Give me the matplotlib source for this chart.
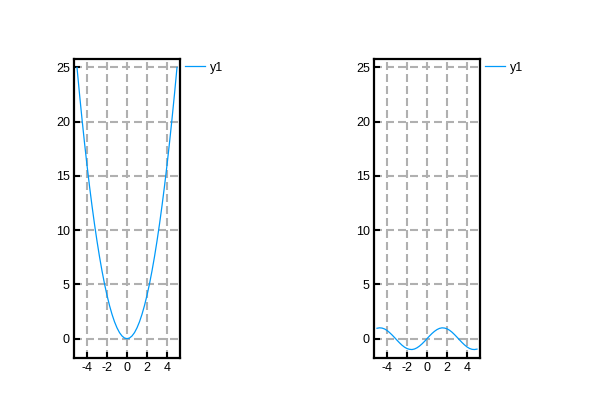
import matplotlib
matplotlib.use("Agg")
import matplotlib.pyplot as plt

x = [-5, -4.75, -4.5, -4.25, -4, -3.75, -3.5, -3.25, -3, -2.75, -2.5, -2.25, -2, -1.75, -1.5, -1.25, -1, -0.75, -0.5, -0.25,
     0, 0.25, 0.5, 0.75, 1, 1.25, 1.5, 1.75, 2, 2.25, 2.5, 2.75, 3, 3.25, 3.5, 3.75, 4, 4.25, 4.5, 4.75, 5]
y_left = [25, 22.56, 20.25, 18.06, 16, 14.06, 12.25, 10.56, 9, 7.56, 6.25, 5.06, 4, 3.06, 2.25, 1.56, 1, 0.56, 0.25, 0.06,
          0, 0.06, 0.25, 0.56, 1, 1.56, 2.25, 3.06, 4, 5.06, 6.25, 7.56, 9, 10.56, 12.25, 14.06, 16, 18.06, 20.25, 22.56, 25]
y_right = [0.96, 1.0, 0.98, 0.9, 0.76, 0.57, 0.35, 0.11, -0.14, -0.38, -0.6, -0.78, -0.91, -0.98, -1.0, -0.95, -0.84, -0.68, -0.48, -0.25,
           0, 0.25, 0.48, 0.68, 0.84, 0.95, 1.0, 0.98, 0.91, 0.78, 0.6, 0.38, 0.14, -0.11, -0.35, -0.57, -0.76, -0.9, -0.98, -1.0, -0.96]
series_label = "y1"
xticks = [-4, -2, 0, 2, 4]
xtick_labels = ["-4", "-2", "0", "2", "4"]
yticks = [0, 5, 10, 15, 20, 25]
ytick_labels = ["0", "5", "10", "15", "20", "25"]

plt.rcParams["font.family"] = ["Liberation Sans", "DejaVu Sans"]

fig = plt.figure(figsize=(6, 4), dpi=100)
color = "#009AFA"

for left, ys in [(74 / 600, y_left), (374 / 600, y_right)]:
    ax = fig.add_axes([left, 42 / 400, 106 / 600, 299 / 400])
    ax.plot(x, ys, color=color, lw=0.9, label=series_label)
    ax.set_xlim(-5.3, 5.3)
    ax.set_ylim(-1.78, 25.78)
    ax.set_xticks(xticks)
    ax.set_xticklabels(xtick_labels)
    ax.set_yticks(yticks)
    ax.set_yticklabels(ytick_labels)
    ax.grid(True, color="#b0b0b0", linestyle=(0, (3.84, 1.92)), linewidth=1.5)
    ax.set_axisbelow(True)
    for s in ax.spines.values():
        s.set_linewidth(1.6)
        s.set_color("black")
    ax.tick_params(direction="in", length=4, width=1.5, labelsize=9, pad=3,
                   top=False, right=False)
    ax.legend(loc="center left", bbox_to_anchor=(1 + 5 / 106, 1 - 8.7 / 299), frameon=False, fontsize=9,
              handlelength=1.6, handletextpad=0.4, borderaxespad=0, borderpad=0)

fig.savefig("out.png", dpi=100)
